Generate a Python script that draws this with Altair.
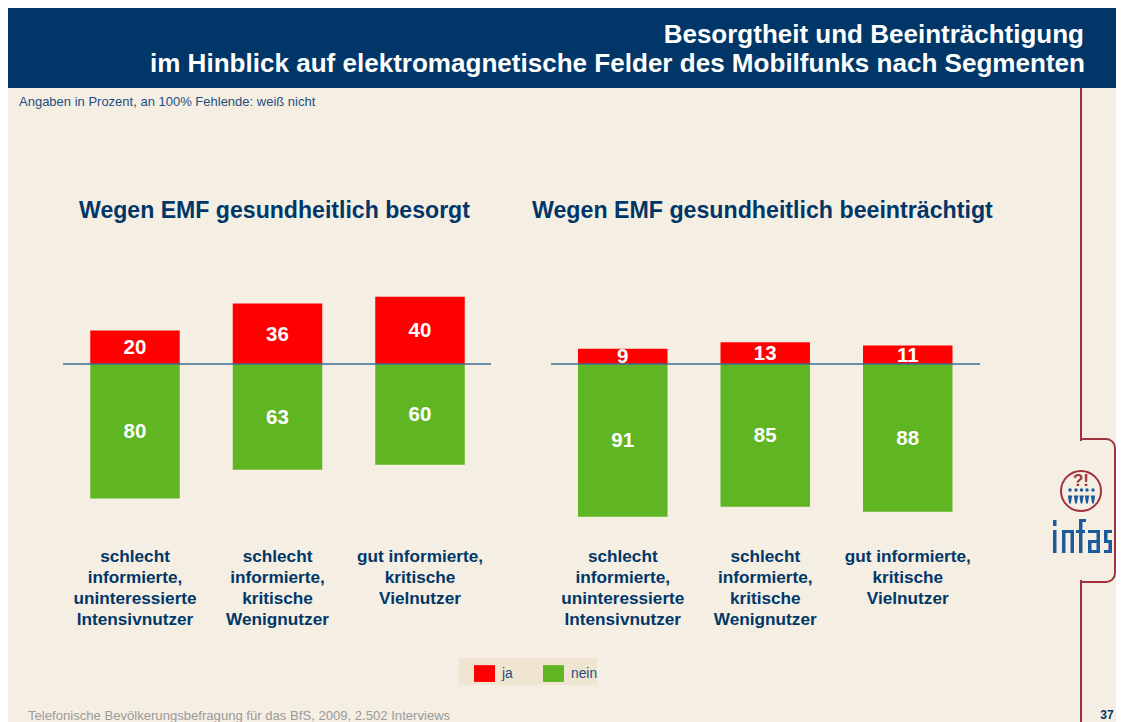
import altair as alt
import pandas as pd

segments_left = ["schlecht\ninformierte,\nuninteressierte\nIntensivnutzer", "schlecht\ninformierte,\nkritische\nWenignutzer", "gut informierte,\nkritische\nVielnutzer"]
segments_right = segments_left
ja_left = [20, 36, 40]
nein_left = [80, 63, 60]
ja_right = [9, 13, 11]
nein_right = [91, 85, 88]
answers = ["ja", "nein"]
answer_colors = ["#ff0000", "#60b522"]

NAVY = "#003768"
BLUE = "#1f4f80"
MAROON = "#a2313d"
BEIGE = "#f5eee3"
FONT = "Liberation Sans"
W, H = 1108, 714


def px(v):
    return alt.value(v - 8)


yscale = alt.Scale(domain=[-213.1, 211.9], range=[H, 0], nice=False, zero=False)


def panel_df(cats, ja, nein):
    rows = []
    for c, a, b in zip(cats, ja, nein):
        rows.append({"segment": c, "answer": "ja", "value": a, "signed": a, "mid": a / 2})
        rows.append({"segment": c, "answer": "nein", "value": b, "signed": -b, "mid": -b / 2})
    return pd.DataFrame(rows)


def panel(cats, ja, nein, r0, r1):
    df = panel_df(cats, ja, nein)
    xs = alt.X("segment:N", axis=None,
               scale=alt.Scale(domain=cats, range=[r0, r1], paddingInner=0.372, paddingOuter=0.186))
    bars = alt.Chart(df).mark_bar().encode(
        x=xs,
        y=alt.Y("signed:Q", scale=yscale, axis=None),
        y2=alt.Y2(datum=0),
        color=alt.Color(
            "answer:N",
            scale=alt.Scale(domain=answers, range=answer_colors),
            legend=alt.Legend(
                orient="none", legendX=474 - 8, legendY=663 - 8, direction="horizontal",
                title=None, symbolType="M-1,-0.8H1V0.8H-1Z", symbolSize=441, symbolOpacity=1,
                symbolStrokeWidth=0, labelFont=FONT, labelFontSize=13.8, labelColor=BLUE, columnPadding=30,
                labelOffset=7, padding=0,
            ),
        ),
    )
    values = alt.Chart(df).mark_text(font=FONT, fontWeight="bold", fontSize=20.5, color="white", dy=1).encode(
        x=xs, y=alt.Y("mid:Q", scale=yscale, axis=None), text=alt.Text("value:Q"))
    labels = alt.Chart(pd.DataFrame({"segment": cats})).mark_text(
        font=FONT, fontWeight="bold", fontSize=17.2, color=NAVY, lineBreak="\n", lineHeight=21, baseline="top",
    ).encode(x=xs, y=px(548), text="segment:N")
    return [bars, values, labels]


def deco_rect(x, x2, y, y2, color, **kw):
    return alt.Chart(pd.DataFrame({"k": [0]})).mark_rect(color=color, **kw).encode(
        x=px(x), x2=px(x2), y=px(y), y2=px(y2))


def text(s, x, y, size, color, weight="normal", align="left", baseline="alphabetic", font=FONT):
    return alt.Chart(pd.DataFrame({"t": [s]})).mark_text(
        font=font, fontSize=size, color=color, fontWeight=weight, align=align, baseline=baseline,
    ).encode(x=px(x), y=px(y), text="t:N")


def vrule(x, y, y2, color=MAROON, width=2):
    return alt.Chart(pd.DataFrame({"k": [0]})).mark_rule(color=color, strokeWidth=width).encode(
        x=px(x), y=px(y), y2=px(y2))


def zero_rule(x, x2):
    return alt.Chart(pd.DataFrame({"k": [0]})).mark_rule(color="#3d6c92", strokeWidth=1.5).encode(
        x=px(x), x2=px(x2), y=alt.Y(datum=0, scale=yscale, axis=None))


def point(x, y, shape, size, color):
    return alt.Chart(pd.DataFrame({"k": [0]})).mark_point(
        filled=True, shape=shape, size=size, color=color, opacity=1, strokeWidth=0,
    ).encode(x=px(x), y=px(y))


def logo_path():
    boxes = [
        (1053, 1056.5, 530, 553), (1053, 1056.5, 520, 526),
        (1062, 1065.5, 530, 553), (1062, 1074, 530, 533), (1070.5, 1074, 530, 553),
        (1079, 1082.5, 521, 553), (1079, 1086, 519, 522), (1076, 1085, 530, 533),
        (1088, 1100, 530, 533), (1096.5, 1100, 530, 553), (1088, 1091.5, 540, 553),
        (1088, 1100, 540, 543), (1088, 1100, 550, 553),
        (1104, 1112, 530, 533), (1104, 1107.5, 530, 543), (1104, 1112, 540, 543),
        (1108.5, 1112, 540, 553), (1104, 1112, 550, 553),
    ]
    parts = []
    for x0, x1, y0, y1 in boxes:
        a, b = (x0 - 1082) / 30, (x1 - 1082) / 30
        c, d = (y0 - 536) / 30, (y1 - 536) / 30
        parts.append(f"M{a:.3f},{c:.3f}H{b:.3f}V{d:.3f}H{a:.3f}Z")
    return "".join(parts)


layers = []
layers += [vrule(1081, 88, 440), vrule(1081, 581, 722)]
layers.append(alt.Chart(pd.DataFrame({"k": [0]})).mark_rect(
    fillOpacity=0, stroke=MAROON, strokeWidth=2, cornerRadiusTopRight=9, cornerRadiusBottomRight=9,
).encode(x=px(1081), x2=px(1115), y=px(439), y2=px(582)))
layers.append(vrule(1081, 441, 580, BEIGE, 3))
layers.append(deco_rect(8, 1116, 8, 88, NAVY))
layers.append(text("Besorgtheit und Beeinträchtigung", 1084, 43, 26, "white", "bold", "right"))
layers.append(text("im Hinblick auf elektromagnetische Felder des Mobilfunks nach Segmenten", 1085, 72, 26.05, "white", "bold", "right"))
layers.append(text("Angaben in Prozent, an 100% Fehlende: weiß nicht", 19, 106, 13, BLUE))
layers.append(text("Wegen EMF gesundheitlich besorgt", 79, 218, 23.1, NAVY, "bold"))
layers.append(text("Wegen EMF gesundheitlich beeinträchtigt", 532, 218, 23.2, NAVY, "bold"))
layers.append(deco_rect(459, 597, 658, 685, "#efe5d0"))
layers += panel(segments_left, ja_left, nein_left, 55.75, 483.25)
layers += panel(segments_right, ja_right, nein_right, 543.5, 971)
layers += [zero_rule(63, 491), zero_rule(551, 980)]
layers.append(text("Telefonische Bevölkerungsbefragung für das BfS, 2009, 2.502 Interviews", 28, 720, 13.1, "#9a9a9a"))
layers.append(text("37", 1107, 719, 12, NAVY, "bold", "center"))
layers.append(alt.Chart(pd.DataFrame({"k": [0]})).mark_point(
    shape="circle", size=1600, color=MAROON, strokeWidth=2, opacity=1, filled=False,
).encode(x=px(1081), y=px(491)))
layers.append(text("?!", 1081, 486, 17, MAROON, "bold", "center"))
for x in [1070, 1076, 1081.5, 1087, 1093]:
    layers.append(point(x, 490, "circle", 12, "#1c5a9c"))
    layers.append(point(x, 499.5, "M-0.55,-1H0.55L0.2,1H-0.2Z", 64, "#1c5a9c"))
layers.append(point(1082, 536, logo_path(), 3600, "#1c5a9c"))

chart = alt.layer(*layers).resolve_scale(x="independent").properties(
    width=W, height=H, padding=0, autosize=alt.AutoSizeParams(type="none"), background=BEIGE,
).configure_view(stroke=None)

chart.save("out.html", embed_options={"renderer": "svg", "actions": False})
